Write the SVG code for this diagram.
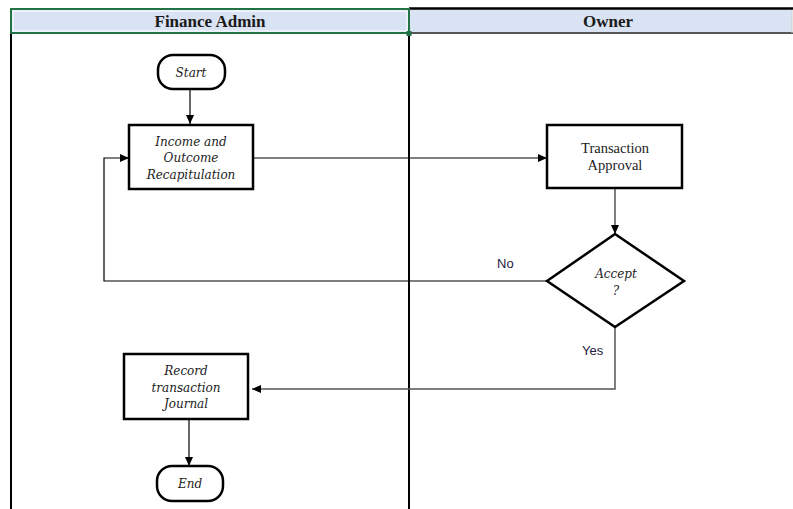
<svg xmlns="http://www.w3.org/2000/svg" width="793" height="509" viewBox="0 0 793 509">
<style>
.hdr{font-family:"Liberation Serif",serif;font-weight:bold;font-size:17px;fill:#1a1a1a;text-anchor:middle}
.it{font-family:"DejaVu Serif",serif;font-style:italic;font-size:12px;fill:#222;text-anchor:middle}
.rg{font-family:"Liberation Serif",serif;font-size:14.5px;fill:#222;text-anchor:middle}
.lbl{font-family:"Liberation Sans",sans-serif;font-size:13px;fill:#1e2040}
.box{fill:#fff;stroke:#000;stroke-width:2.5}
.ln{fill:none;stroke:#000;stroke-width:1.2}
.gl{fill:none;stroke:#555;stroke-width:1.5}
</style>
<defs>
<marker id="ah" markerWidth="10" markerHeight="8" refX="9" refY="4" orient="auto" markerUnits="userSpaceOnUse">
<path d="M0,0 L9,4 L0,8 Z" fill="#000"/>
</marker>
</defs>
<rect x="0" y="0" width="793" height="509" fill="#fff"/>
<g id="lanes">
<rect x="10" y="9" width="782" height="24" fill="#dae3f3"/>
<line x1="409" y1="8.5" x2="793" y2="8.5" stroke="#000" stroke-width="2.5"/>
<line x1="409" y1="33" x2="793" y2="33" stroke="#555" stroke-width="2"/>
<line x1="792" y1="10" x2="792" y2="33" stroke="#ccc" stroke-width="1"/>
<rect x="11" y="9" width="398" height="24" fill="none" stroke="#217346" stroke-width="2"/>
<rect x="13" y="11" width="394" height="20" fill="none" stroke="#fff" stroke-width="1"/>
<line x1="11" y1="34" x2="11" y2="509" stroke="#000" stroke-width="2"/>
<line x1="409" y1="34" x2="409" y2="509" stroke="#000" stroke-width="2"/>
<rect x="406.5" y="31" width="5" height="5" fill="#217346"/>
<text class="hdr" x="210" y="27">Finance Admin</text>
<text class="hdr" x="608" y="27">Owner</text>
</g>
<g id="connectors">
<line class="ln" x1="190" y1="89" x2="190" y2="124" marker-end="url(#ah)"/>
<line class="ln" x1="253" y1="158" x2="547" y2="158" marker-end="url(#ah)"/>
<line class="gl" x1="615" y1="189" x2="615" y2="234" marker-end="url(#ah)"/>
<polyline class="ln" points="547,281 104,281 104,158 129,158" marker-end="url(#ah)"/>
<polyline class="gl" points="615,327 615,389 252,389" marker-end="url(#ah)"/>
<line class="ln" x1="189" y1="419" x2="189" y2="466" marker-end="url(#ah)"/>
<text class="lbl" x="497" y="268">No</text>
<text class="lbl" x="582" y="355">Yes</text>
</g>
<g id="start">
<rect class="box" x="158" y="55" width="67" height="34" rx="15" stroke-width="2"/>
<text class="it" x="191" y="77">Start</text>
</g>
<g id="income">
<rect class="box" x="129" y="125" width="124" height="64"/>
<text class="it" x="191" y="146">Income  and</text>
<text class="it" x="191" y="162">Outcome</text>
<text class="it" x="191" y="179">Recapitulation</text>
</g>
<g id="approval">
<rect class="box" x="547" y="125" width="135" height="63"/>
<text class="rg" x="615" y="153">Transaction</text>
<text class="rg" x="615" y="170">Approval</text>
</g>
<g id="accept">
<polygon class="box" points="615,234 684,281 615,327 547,281"/>
<text class="it" x="616" y="278">Accept</text>
<text class="it" x="616" y="295">?</text>
</g>
<g id="record">
<rect class="box" x="124" y="354" width="124" height="65"/>
<text class="it" x="186" y="375">Record</text>
<text class="it" x="186" y="392">transaction</text>
<text class="it" x="186" y="408">Journal</text>
</g>
<g id="end">
<rect class="box" x="157" y="466" width="66" height="35" rx="15" stroke-width="2"/>
<text class="it" x="190" y="488">End</text>
</g>
</svg>
